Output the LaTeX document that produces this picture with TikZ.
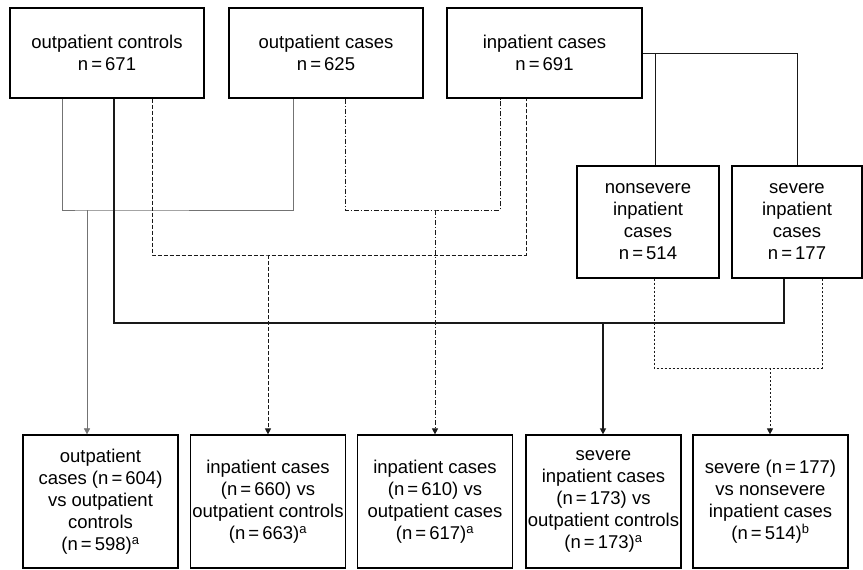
\documentclass[tikz,border=0pt]{standalone}
\usepackage{fontspec}
\setmainfont{Liberation Sans}
\usepackage{tikz}
\usetikzlibrary{arrows.meta}
\tikzset{group/.style={draw, line width=1.2pt, align=center, inner sep=0pt,
    font=\fontsize{18.5}{22}\selectfont},
  result/.style={group, minimum width=155pt, minimum height=133pt},
  link/.style={line width=1pt, draw=black!90},
  tip/.style={-{Triangle[length=6pt,width=6pt]}}}

\begin{document}
\begin{tikzpicture}[x=1pt, y=-1pt]
    \useasboundingbox (0,0) rectangle (863,570);
    % groups of patients
    \node[group, minimum width=194pt, minimum height=90pt] (ctrl) at (107,53)
      {outpatient controls\\n\,=\,671};
    \node[group, minimum width=194pt, minimum height=90pt] (ocase) at (326,53)
      {outpatient cases\\n\,=\,625};
    \node[group, minimum width=195pt, minimum height=90pt] (inp) at (544.5,53)
      {inpatient cases\\n\,=\,691};
    \node[group, minimum width=142pt, minimum height=112pt] (nsev) at (648,222)
      {nonsevere\\inpatient\\cases\\n\,=\,514};
    \node[group, minimum width=130pt, minimum height=112pt] (sev) at (797,222)
      {severe\\inpatient\\cases\\n\,=\,177};
    % comparisons
    \node[result] (cmpA) at (100.5,501.5)
      {outpatient\\cases (n\,=\,604)\\vs outpatient\\controls\\(n\,=\,598)\textsuperscript{a}};
    \node[result] (cmpB) at (268,501.5)
      {inpatient cases\\(n\,=\,660) vs\\outpatient controls\\(n\,=\,663)\textsuperscript{a}};
    \node[result] (cmpC) at (435,501.5)
      {inpatient cases\\(n\,=\,610) vs\\outpatient cases\\(n\,=\,617)\textsuperscript{a}};
    \node[result] (cmpD) at (603.5,501.5)
      {severe\\inpatient cases\\(n\,=\,173) vs\\outpatient controls\\(n\,=\,173)\textsuperscript{a}};
    \node[result] (cmpE) at (770.5,501.5)
      {severe (n\,=\,177)\\vs nonsevere\\inpatient cases\\(n\,=\,514)\textsuperscript{b}};
    % junctions
    \coordinate (jA) at (87,210);
    \coordinate (jB) at (268,255);
    \coordinate (jC) at (435,210);
    \coordinate (jD) at (603,323);
    \coordinate (jE) at (770,368);
    \coordinate (jF) at (655,53);
    % inpatient split
    \draw[link] (inp.east) -| (sev.north);
    \draw[link] (jF) -- (nsev.north -| jF);
    % outpatient cases vs outpatient controls
    \draw[link, line width=0.6pt, draw=black!55] (ctrl.south -| 62,0) |- (jA) -| (ocase.south -| 293,0);
    \draw[link, line width=0.6pt, draw=black!55, tip] (jA) -- (cmpA.north -| jA);
    % inpatient cases vs outpatient controls
    \draw[link, dash pattern=on 4pt off 2pt] (ctrl.south -| 152,0) |- (jB) -| (inp.south -| 526,0);
    \draw[link, dash pattern=on 4pt off 2pt, tip] (jB) -- (cmpB.north);
    % inpatient cases vs outpatient cases
    \draw[link, dash pattern=on 5pt off 2pt on 1pt off 2pt] (ocase.south -| 345,0) |- (jC) -| (inp.south -| 500,0);
    \draw[link, dash pattern=on 5pt off 2pt on 1pt off 2pt, tip] (jC) -- (cmpC.north);
    % severe vs outpatient controls
    \draw[link, line width=1.3pt] (ctrl.south -| 114,0) |- (jD) -| (sev.south -| 784,0);
    \draw[link, line width=1.3pt, tip] (jD) -- (cmpD.north -| jD);
    % severe vs nonsevere
    \draw[link, dash pattern=on 2pt off 2pt] (nsev.south -| 654,0) |- (jE) -| (sev.south -| 822,0);
    \draw[link, dash pattern=on 2pt off 2pt, tip] (jE) -- (cmpE.north -| jE);
\end{tikzpicture}
\end{document}
